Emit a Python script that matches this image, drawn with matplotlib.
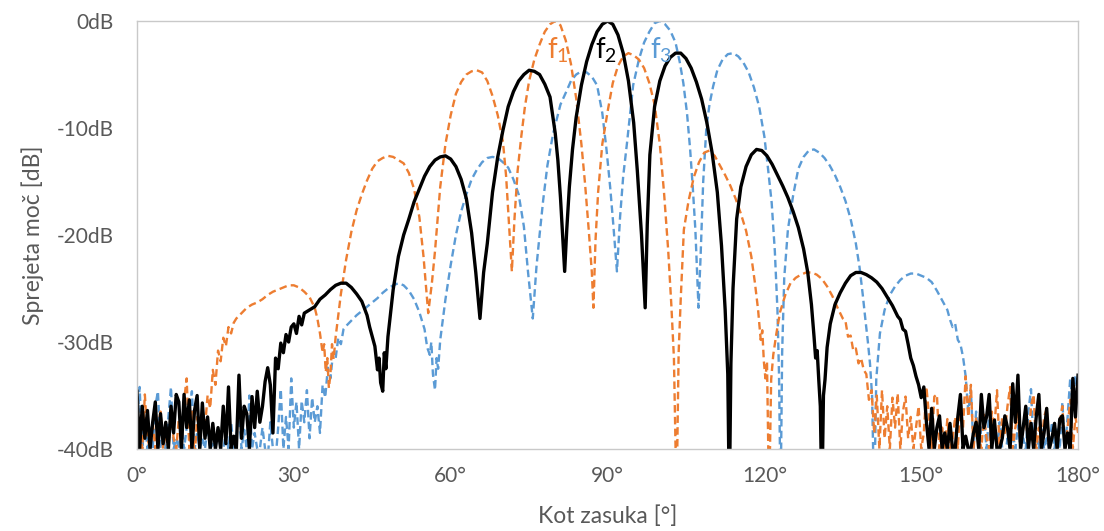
import matplotlib
matplotlib.use("Agg")
import matplotlib.pyplot as plt

# ── DATA ──────────────────────────────────────────────────
# f1 – orange dashed, main lobe near 80°
f1_deg = [
    0, 0.5, 1, 1.5, 2, 2.5, 3, 3.5, 4, 4.5,
    5, 5.5, 6, 6.5, 7, 7.5, 8, 8.5, 9, 9.5,
    10, 10.5, 11, 11.5, 12, 12.5, 13, 13.5, 14, 14.5,
    15, 15.5, 16, 16.5, 17, 17.5, 18, 18.5, 19, 20,
    21, 22, 23, 24, 25, 26, 27, 28, 29, 30,
    31, 32, 33, 34, 34.5, 35, 35.5, 35.8, 36.1, 36.4,
    36.7, 37, 37.3, 37.6, 38, 38.5, 39, 40, 41, 42,
    43, 44, 45, 46, 47, 48, 49, 50, 51, 52,
    53, 54, 54.8, 55.7, 56.4, 57, 58, 59, 60, 61,
    62, 63, 64, 65, 66, 67, 68, 69, 70, 70.6,
    71.1, 71.7, 72.2, 72.8, 73.5, 74.2, 75, 76, 77, 78,
    79, 80, 81, 82, 83, 84, 85, 85.7, 86.4, 87,
    87.3, 87.7, 88.2, 89, 90, 91, 92, 93, 94, 95,
    96, 97, 98, 99, 100, 100.8, 101.6, 102.2, 102.7, 103.2,
    103.6, 104, 104.6, 105.5, 106.5, 107.5, 108.5, 109.5, 110.5, 111.5,
    112.5, 113.5, 114.5, 115.5, 116.5, 117.5, 118.2, 118.8, 119.3, 119.6,
    119.9, 120.2, 120.5, 120.9, 121.3, 121.7, 122.3, 123, 124, 125,
    126, 127, 128, 129, 130, 131, 132, 133, 134, 134.5,
    135, 135.5, 136, 136.5, 137, 137.5, 138, 138.5, 139, 139.5,
    140, 140.5, 141, 141.5, 142, 142.5, 143, 143.5, 144, 144.5,
    145, 145.5, 146, 146.5, 147, 147.5, 148, 148.5, 149, 149.5,
    150, 150.5, 151, 151.5, 152, 152.5, 153, 153.5, 154, 154.5,
    155, 155.5, 156, 156.5, 157, 157.5, 158, 158.5, 159, 159.5,
    160, 160.5, 161, 161.5, 162, 162.5, 163, 163.5, 164, 164.5,
    165, 165.5, 166, 166.5, 167, 167.5, 168, 168.5, 169, 169.5,
    170, 170.5, 171, 171.5, 172, 172.5, 173, 173.5, 174, 174.5,
    175, 175.5, 176, 176.5, 177, 177.5, 178, 178.5, 179, 179.5,
    180,
]
f1_db = [
    -40, -37, -40, -34.9, -39, -40, -37.5, -40, -38, -36.5,
    -40, -38.5, -40, -36.8, -39, -40, -37.2, -40, -35.5, -33.4,
    -40, -36.5, -41, -37, -39, -36.4, -38, -35, -36.2, -32.6,
    -34, -30.8, -31.8, -29.6, -30.4, -28.6, -29.2, -28.2, -27.8, -27.3,
    -26.8, -26.5, -26.3, -26.0, -25.6, -25.3, -25.1, -24.9, -24.7, -24.7,
    -24.9, -25.3, -25.8, -26.8, -27.8, -29.2, -31.0, -30.2, -32.8, -31.5,
    -34.3, -33.0, -30.2, -31.6, -29.5, -27.5, -25.5, -22.3, -19.7, -17.7,
    -16.2, -14.9, -13.8, -13.1, -12.8, -12.6, -12.7, -13.0, -13.3, -14.2,
    -15.7, -18.3, -22.0, -27.3, -24.5, -21.5, -15.5, -11.5, -8.8, -6.8,
    -5.7, -5.0, -4.7, -4.6, -4.8, -5.6, -7.0, -8.8, -11.3, -14.5,
    -18.5, -23.4, -18.5, -14.0, -10.8, -8.0, -5.6, -3.6, -2.2, -1.0,
    -0.3, 0.0, -0.4, -1.8, -4.0, -7.2, -11.5, -15.2, -19.5, -23.5,
    -26.8, -20.5, -16.0, -11.5, -8.5, -5.8, -4.2, -3.3, -3.0, -3.2,
    -3.6, -4.4, -5.8, -7.8, -11.5, -16.0, -21.4, -26.5, -31.5, -45,
    -31.0, -26.0, -19.5, -16.8, -14.6, -13.2, -12.3, -12.1, -12.6, -13.5,
    -14.4, -15.4, -16.6, -18.0, -19.6, -22.0, -24.5, -27.0, -29.8, -28.9,
    -31.8, -33.4, -31.8, -45, -33.5, -31.2, -29.2, -27.2, -25.6, -24.5,
    -24.0, -23.7, -23.5, -23.5, -23.7, -24.1, -24.8, -25.7, -26.8, -27.3,
    -27.8, -28.0, -29.5, -29.4, -30.8, -30.6, -32.0, -31.5, -32.6, -33.0,
    -35.4, -34.5, -38.5, -35.0, -40, -34.5, -39, -36.0, -40, -35.2,
    -38, -34.8, -40, -36.5, -35.1, -39, -37, -40, -38, -36,
    -40, -38.5, -34.2, -37, -40, -35.1, -34.9, -40, -38, -40,
    -37.2, -40, -39, -37, -40, -35.5, -38, -33.2, -37, -34.0,
    -40, -37, -38.5, -40, -36.8, -39, -40, -36.5, -38, -34.5,
    -40, -37, -38.5, -36, -34.2, -40, -38, -36.5, -40, -38,
    -37, -40, -36, -34.9, -40, -38, -40, -37, -36.2, -40,
    -39, -38, -40, -37.6, -36, -40, -38, -35.4, -40, -37,
    -38.5,
]

# f2 – black solid, main lobe at 90°
f2_deg = [
    0, 0.5, 1, 1.5, 2, 2.5, 3, 3.5, 4, 4.5,
    5, 5.5, 6, 6.5, 7, 7.5, 8, 8.5, 9, 9.5,
    10, 10.5, 11, 11.5, 12, 12.5, 13, 13.5, 14, 14.5,
    15, 15.5, 16, 16.5, 17, 17.5, 18, 18.5, 19, 19.5,
    20, 20.5, 21, 21.5, 22, 22.5, 23, 23.5, 24, 24.5,
    25, 25.5, 26, 26.5, 27, 27.5, 28, 28.5, 29, 29.5,
    30, 30.5, 31, 31.5, 32, 33, 34, 35, 36, 37,
    38, 39, 40, 41, 42, 43, 44, 44.5, 45, 45.5,
    46, 46.3, 46.6, 47, 47.3, 47.6, 48, 49, 50, 51,
    52, 53, 54, 55, 56, 57, 58, 59, 60, 61,
    62, 63, 64, 64.8, 65.6, 66.3, 67, 68, 69, 70,
    71, 72, 73, 74, 75, 76, 77, 78, 79, 80,
    80.5, 81, 81.4, 81.8, 82.2, 82.7, 83.3, 84, 85, 86,
    87, 88, 89, 90, 91, 92, 93, 94, 95, 95.7,
    96.5, 97.2, 97.6, 98.1, 99, 100, 101, 102, 103, 104,
    105, 106, 107, 108, 109, 110, 111, 111.8, 112.5, 113,
    113.3, 113.6, 114, 114.7, 115.5, 116.5, 117.5, 118.5, 119.5, 120.5,
    121.5, 122.5, 123.5, 124.5, 125.5, 126.5, 127.5, 128.3, 129, 129.5,
    129.8, 130.1, 130.4, 130.7, 131, 131.3, 131.6, 132, 132.6, 133.5,
    134.5, 135.5, 136.5, 137.5, 138.5, 139.5, 140.5, 141.5, 142.5, 143.5,
    144.5, 145.5, 146, 146.5, 147, 147.5, 148, 148.5, 149, 149.5,
    150, 150.5, 151, 151.5, 152, 152.5, 153, 153.5, 154, 154.5,
    155, 155.5, 156, 156.5, 157, 157.5, 158, 158.5, 159, 159.5,
    160, 160.5, 161, 161.5, 162, 162.5, 163, 163.5, 164, 164.5,
    165, 165.5, 166, 166.5, 167, 167.5, 168, 168.5, 169, 169.5,
    170, 170.5, 171, 171.5, 172, 172.5, 173, 173.5, 174, 174.5,
    175, 175.5, 176, 176.5, 177, 177.5, 178, 178.5, 179, 179.5,
    180,
]
f2_db = [
    -34.6, -40, -36.0, -39, -36.4, -40, -37.5, -35.6, -40, -36.7,
    -39.5, -37.5, -40, -36.0, -38.5, -34.9, -35.6, -40, -34.9, -38,
    -35.4, -40, -36.4, -35.0, -40, -35.7, -39, -37.0, -40, -37.6,
    -40, -38.0, -40, -36.0, -39.5, -34.2, -40, -38.8, -40, -33.1,
    -39, -36.0, -36.7, -40, -35.1, -38, -34.6, -37.5, -36.0, -33.7,
    -32.4, -34, -38.5, -31.5, -32.5, -30.1, -31, -29.3, -30, -28.6,
    -28.3, -29.2, -27.6, -28.4, -27.3, -27.0, -26.7, -26.0, -25.6, -25.1,
    -24.7, -24.5, -24.5, -24.9, -25.5, -26.2, -27.5, -28.6, -29.5, -30.4,
    -32.6, -31.5, -33.8, -34.6, -31, -32.5, -29.5, -25.1, -22.0, -20.0,
    -18.5, -16.9, -15.7, -14.5, -13.6, -13.0, -12.7, -12.6, -12.9, -13.6,
    -14.8, -16.6, -19.8, -23.5, -27.8, -23.5, -20.8, -16.0, -12.7, -10.2,
    -8.0, -6.6, -5.6, -5.0, -4.6, -4.7, -5.0, -5.9, -7.1, -10.5,
    -13.0, -16.5, -20.0, -23.4, -19.5, -15.5, -12.0, -9.0, -6.0, -3.8,
    -2.2, -1.0, -0.3, 0.0, -0.3, -1.3, -3.0, -5.6, -9.5, -14.0,
    -20.0, -26.8, -19.0, -12.5, -8.0, -5.6, -4.2, -3.4, -3.0, -3.0,
    -3.5, -4.4, -5.7, -7.3, -9.5, -12.3, -16.0, -21.0, -27.0, -33.0,
    -45, -32.0, -25.0, -18.5, -15.5, -13.6, -12.5, -12.0, -12.1, -12.6,
    -13.4, -14.4, -15.4, -16.5, -17.8, -19.3, -21.3, -23.5, -26.5, -29.5,
    -31.5, -30.8, -33.5, -36, -45, -35, -33.5, -30.5, -28.3, -26.5,
    -25.4, -24.5, -23.8, -23.5, -23.5, -23.7, -24.0, -24.4, -25.0, -25.8,
    -26.6, -27.6, -27.9, -28.8, -29.0, -30.2, -31.5, -32.2, -33.2, -34.0,
    -35.2, -34.2, -37.5, -40, -36.2, -40, -38, -36.9, -40, -38.5,
    -40, -37.6, -40, -40, -37, -34.9, -40, -38.8, -40, -40,
    -38.5, -37.5, -40, -34.9, -38, -37, -34.9, -40, -37.3, -40,
    -40, -39, -36.9, -38, -40, -33.9, -37.5, -33.1, -40, -38,
    -36.0, -40, -37.6, -40, -37, -34.9, -40, -38.5, -36.2, -40,
    -39, -37.6, -40, -37.2, -36.9, -40, -38.5, -40, -33.4, -37,
    -33.1,
]

# f3 – blue dashed, main lobe near 100°
f3_deg = [
    0, 0.5, 1, 1.5, 2, 2.5, 3, 3.5, 4, 4.5,
    5, 5.5, 6, 6.5, 7, 7.5, 8, 8.5, 9, 9.5,
    10, 10.5, 11, 11.5, 12, 12.5, 13, 13.5, 14, 14.5,
    15, 15.5, 16, 16.5, 17, 17.5, 18, 18.5, 19, 19.5,
    20, 20.5, 21, 21.5, 22, 22.5, 23, 23.5, 24, 24.5,
    25, 25.5, 26, 26.5, 27, 27.5, 28, 28.5, 29, 29.5,
    30, 30.5, 31, 31.5, 32, 32.5, 33, 33.5, 34, 34.5,
    35, 35.5, 36, 36.5, 37, 37.5, 38, 38.5, 39, 39.5,
    40, 41, 42, 43, 44, 45, 46, 47, 48, 49,
    50, 51, 52, 53, 54, 54.5, 55, 55.5, 56, 56.3,
    56.6, 57, 57.3, 57.6, 58, 59, 60, 61, 62, 63,
    64, 65, 66, 67, 68, 69, 70, 71, 72, 73,
    74, 74.8, 75.7, 76.4, 77, 77.7, 78.5, 79.6, 81, 82.2,
    83, 84, 85, 86, 87, 88, 89, 89.8, 90.5, 91.1,
    91.8, 92.4, 93, 93.7, 94.9, 96, 97, 98, 99, 100,
    101, 102, 103, 103.8, 104.5, 105.2, 105.8, 106.3, 106.8, 107.4,
    107.8, 108.3, 108.9, 109.5, 110.2, 111, 112, 113, 114, 115,
    116, 117, 118, 119, 120, 120.7, 121.4, 122, 122.5, 122.8,
    123.1, 123.4, 123.8, 124.5, 125.5, 126.5, 127.5, 128.5, 129.5, 130.5,
    131.5, 132.5, 133.5, 134.5, 135.5, 136.5, 137.5, 138.2, 138.8, 139.3,
    139.8, 140.2, 140.6, 141, 141.4, 142.1, 143, 144, 145, 146,
    147, 148, 149, 150, 151, 152, 153, 154, 155, 155.5,
    156, 156.5, 157, 157.5, 158, 158.5, 159, 159.5, 160, 160.5,
    161, 161.5, 162, 162.5, 163, 163.5, 164, 164.5, 165, 165.5,
    166, 166.5, 167, 167.5, 168, 168.5, 169, 169.5, 170, 170.5,
    171, 171.5, 172, 172.5, 173, 173.5, 174, 174.5, 175, 175.5,
    176, 176.5, 177, 177.5, 178, 178.5, 179, 179.5, 180,
]
f3_db = [
    -38, -34.2, -40, -37.5, -40, -38, -40, -36, -34.6, -40,
    -38.5, -40, -37, -34.2, -40, -39, -40, -37.5, -40, -38,
    -36.5, -34.6, -40, -38.5, -40, -39, -40, -37.8, -40, -39.5,
    -40, -38, -40, -40, -38.5, -40, -37.5, -40, -39, -36.5,
    -40, -38.2, -40, -35.0, -40, -38.5, -40, -40, -38, -40,
    -41, -37.5, -40, -41, -38, -34.4, -40, -37, -40, -33.4,
    -38, -35.6, -40, -35.5, -37.5, -34.5, -39, -35.2, -37.5, -36.0,
    -38.5, -34.0, -35.2, -32.4, -33.4, -31.0, -31.5, -29.6, -30.2, -28.8,
    -28.5, -28.0, -27.5, -27.1, -26.7, -26.3, -25.9, -25.4, -25.0, -24.7,
    -24.5, -24.7, -25.2, -26.0, -27.2, -28.0, -28.8, -30.5, -31.2, -30.0,
    -33.0, -34.5, -31.5, -32.5, -29.8, -26.0, -22.8, -20.0, -17.8, -16.2,
    -14.8, -13.9, -13.2, -12.8, -12.7, -12.8, -13.2, -13.7, -14.8, -16.2,
    -19.2, -23.5, -27.8, -23.0, -20.0, -16.7, -13.5, -10.5, -7.8, -6.5,
    -5.6, -5.0, -4.7, -4.8, -5.2, -6.0, -8.6, -12.0, -15.5, -19.0,
    -23.4, -18.3, -14.5, -11.5, -6.0, -3.6, -2.0, -1.0, -0.2, 0.0,
    -0.3, -0.9, -2.0, -3.8, -5.8, -8.6, -12.0, -15.5, -19.5, -26.8,
    -22.0, -15.0, -10.0, -7.8, -6.1, -4.6, -3.6, -3.1, -3.0, -3.3,
    -3.9, -4.8, -6.2, -8.0, -10.8, -13.8, -17.0, -21.5, -27.0, -33.0,
    -45, -31, -24.0, -19.5, -16.3, -13.8, -12.7, -12.1, -12.0, -12.3,
    -12.8, -13.5, -14.4, -15.5, -16.8, -18.5, -20.8, -23.0, -25.5, -27.8,
    -30.0, -32.0, -35.0, -45, -33.5, -29.2, -27.0, -25.6, -24.8, -24.2,
    -23.8, -23.6, -23.6, -23.8, -24.0, -24.4, -25.2, -26.1, -27.0, -27.9,
    -28.6, -28.3, -29.8, -30.2, -31.4, -33.2, -36.5, -34.5, -40, -36.5,
    -40, -38, -37, -40, -36.5, -40, -38, -40, -37.5, -40,
    -41, -39, -40, -38.5, -40, -37.8, -40, -39, -40, -36.5,
    -34.4, -40, -38.5, -40, -38, -40, -39, -40, -37.5, -40,
    -38, -40, -35.6, -40, -37, -33.4, -36, -33.1, -35.5,
]

x_ticks = [0, 30, 60, 90, 120, 150, 180]
y_ticks = [-40, -30, -20, -10, 0]
labels = ["f$_1$", "f$_2$", "f$_3$"]
label_pos = [(80.6, -2.7), (89.7, -2.7), (100.2, -2.7)]

ORANGE = "#ED7D31"
BLUE = "#5B9BD5"
GREY_TXT = "#595959"
GREY_LN = "#C9C9C9"

# ── PLOT ──────────────────────────────────────────────────
plt.rcParams['font.family'] = ['Lato', 'DejaVu Sans']
plt.rcParams['mathtext.default'] = 'regular'

fig = plt.figure(figsize=(11.04, 5.31), dpi=100)
ax = fig.add_axes([0.1241, 0.1544, 0.8524, 0.8060])

ax.plot(f3_deg, f3_db, color=BLUE, lw=1.7, dashes=(3.2, 1.8))
ax.plot(f1_deg, f1_db, color=ORANGE, lw=1.7, dashes=(3.2, 1.8))
ax.plot(f2_deg, f2_db, color="black", lw=2.4, solid_joinstyle='round')

for txt, (lx, ly), c in zip(labels, label_pos, [ORANGE, "black", BLUE]):
    ax.text(lx, ly, txt, color=c, fontsize=20, ha='center', va='center')

ax.set_xlim(0, 180)
ax.set_ylim(-40, 0)
ax.set_xticks(x_ticks)
ax.set_xticklabels([f"{v}\u00b0" for v in x_ticks])
ax.set_yticks(y_ticks)
ax.set_yticklabels([f"{v}dB" for v in y_ticks])
ax.tick_params(length=0, labelsize=15, colors=GREY_TXT)
ax.tick_params(axis='y', pad=17)
ax.tick_params(axis='x', pad=12)
for s in ax.spines.values():
    s.set_color(GREY_LN)
    s.set_linewidth(1.0)

ax.set_xlabel("Kot zasuka [\u00b0]", fontsize=16.5, color=GREY_TXT, labelpad=14)
ax.set_ylabel("Sprejeta moč [dB]", fontsize=16.5, color=GREY_TXT, labelpad=9)

fig.savefig("out.png", dpi=100)
